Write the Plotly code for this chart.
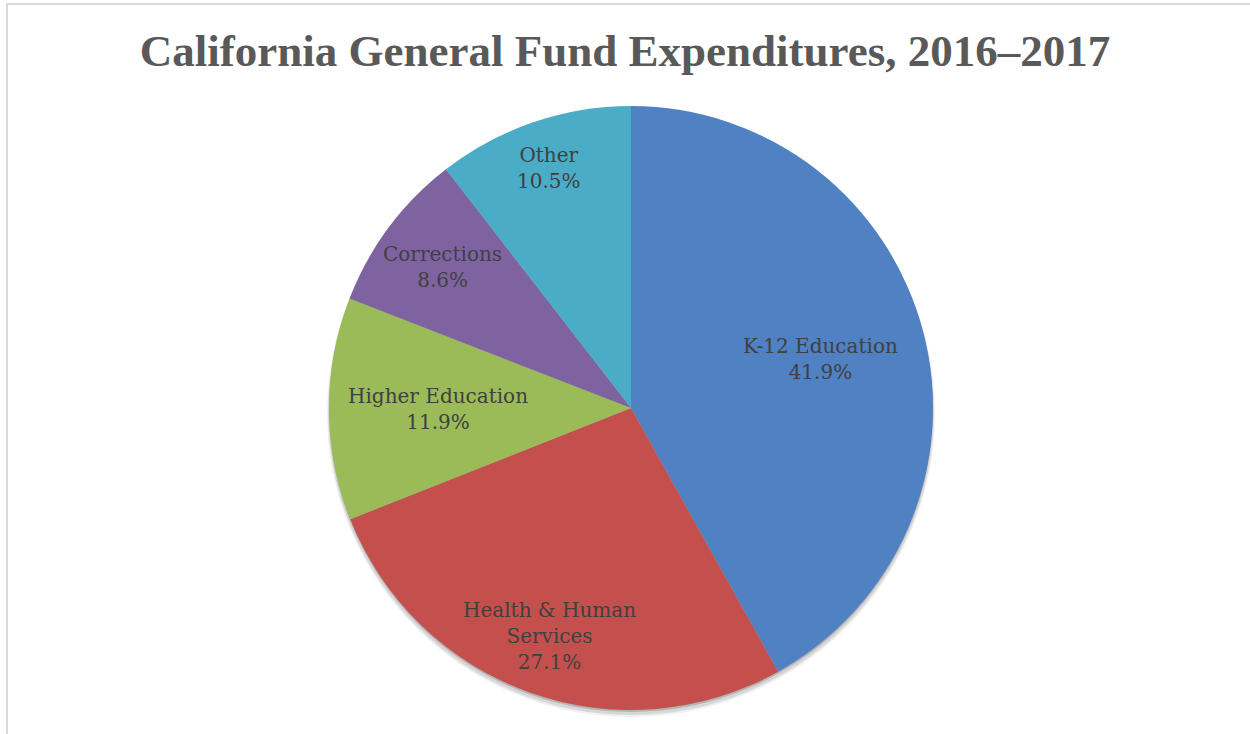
import math
import plotly.graph_objects as go

categories = ["K-12 Education", "Health & Human<br>Services", "Higher Education", "Corrections", "Other"]
values = [41.9, 27.1, 11.9, 8.6, 10.5]
colors = ["#4f81c3", "#c4504e", "#9bbb59", "#7f63a1", "#4aacc6"]
# radial position of each data label, as a fraction of the radius (style)
label_radius = [0.65, 0.80, 0.64, 0.78, 0.84]

W, H = 1250, 734
cx, cy, r = 631, 408, 302


def dom(x, y, rad):
    return dict(x=[(x - rad) / W, (x + rad) / W], y=[1 - (y + rad) / H, 1 - (y - rad) / H])


fig = go.Figure()
# soft drop shadow
for dy, dr, a in [(5, 2, 0.06), (4, 1, 0.10), (2, 0, 0.16)]:
    fig.add_trace(go.Pie(
        values=[1], sort=False, marker=dict(colors=[f"rgba(0,0,0,{a})"], line=dict(width=0)),
        textinfo="none", hoverinfo="skip", showlegend=False, domain=dom(cx, cy + dy, r + dr),
    ))

fig.add_trace(go.Pie(
    labels=categories,
    values=values,
    sort=False,
    direction="clockwise",
    rotation=0,
    marker=dict(colors=colors, line=dict(width=0)),
    textinfo="none",
    domain=dom(cx, cy, r),
    showlegend=False,
    hoverinfo="label+percent",
))

# data labels placed on each slice's bisector
total = sum(values)
annotations = []
cum = 0.0
for lab, v, f in zip(categories, values, label_radius):
    theta = 2 * math.pi * (cum + v / 2) / total
    cum += v
    px = cx + f * r * math.sin(theta)
    py = cy - f * r * math.cos(theta)
    annotations.append(dict(
        x=px / W, y=1 - py / H, xref="paper", yref="paper",
        xanchor="center", yanchor="middle", showarrow=False,
        text=f"{lab}<br>{100 * v / total:.1f}%",
        font=dict(family="DejaVu Serif", size=20, color="#404040"),
    ))

fig.update_layout(
    width=W, height=H,
    margin=dict(l=0, r=0, t=0, b=0),
    paper_bgcolor="white",
    title=dict(
        text="<b>California General Fund Expenditures, 2016–2017</b>",
        x=0.5, xanchor="center", xref="paper",
        y=1 - 50 / H, yanchor="middle", yref="container",
        font=dict(family="Liberation Serif", size=45, color="#595959"),
    ),
    annotations=annotations,
    shapes=[
        dict(type="line", xref="paper", yref="paper", x0=6 / W, x1=1, y0=1 - 4 / H, y1=1 - 4 / H,
             line=dict(color="#d9d9d9", width=2)),
        dict(type="line", xref="paper", yref="paper", x0=7 / W, x1=7 / W, y0=0, y1=1 - 4 / H,
             line=dict(color="#d9d9d9", width=2)),
    ],
)

fig.write_html("out.html", config={"displayModeBar": False},
               post_script="document.body.style.margin='0';")
